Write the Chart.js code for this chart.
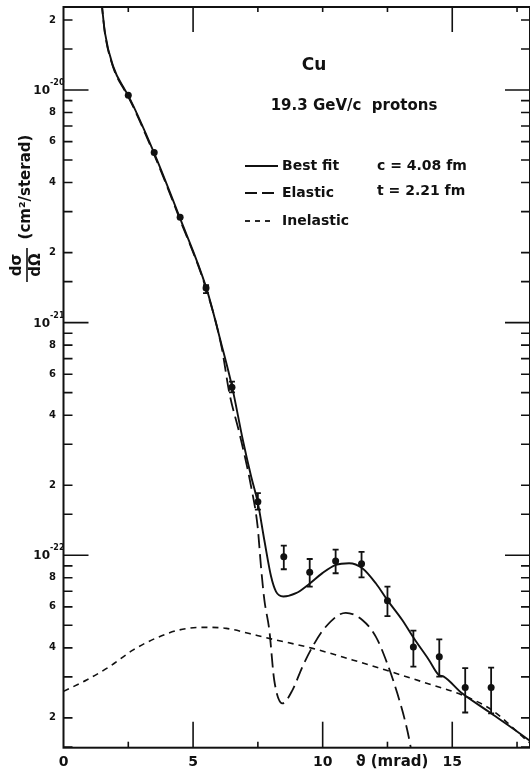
<!DOCTYPE html>
<html>
<head>
<meta charset="utf-8">
<script src="https://cdn.jsdelivr.net/npm/chart.js@4.4.0/dist/chart.umd.min.js"></script>
<style>
  html, body { margin: 0; padding: 0; background: #fff; overflow: hidden; }
  #wrap { width: 534px; height: 774px; }
</style>
</head>
<body>
<div id="wrap"><canvas id="cuChart" width="534" height="774"></canvas></div>
<script>
// measured points (theta in mrad, d sigma / d Omega in cm^2/sterad)
const thetaData = [2.5, 3.5, 4.5, 5.5, 6.5, 7.5, 8.5, 9.5, 10.5, 11.5, 12.5, 13.5, 14.5, 15.5, 16.5];
const sigmaData = [9.5e-21, 5.38e-21, 2.84e-21, 1.41e-21, 5.27e-22, 1.70e-22, 9.86e-23, 8.45e-23, 9.45e-23, 9.2e-23, 6.38e-23, 4.03e-23, 3.66e-23, 2.70e-23, 2.70e-23];
const sigmaLow  = [null, null, null, 1.34e-21, 5.01e-22, 1.57e-22, 8.71e-23, 7.33e-23, 8.37e-23, 8.04e-23, 5.48e-23, 3.32e-23, 3.01e-23, 2.11e-23, 2.09e-23];
const sigmaHigh = [null, null, null, 1.45e-21, 5.58e-22, 1.85e-22, 1.10e-22, 9.64e-23, 1.057e-22, 1.035e-22, 7.33e-23, 4.74e-23, 4.35e-23, 3.27e-23, 3.29e-23];

// best fit curve
const fitTheta = [1.46, 1.60, 1.92, 2.37, 2.49, 3.49, 4.48, 5.51, 6.10, 6.51, 6.92, 7.24, 7.49, 7.75, 8.01, 8.20, 8.48, 8.97, 9.48, 9.99, 10.51, 11.02, 11.53, 12.05, 12.49, 13.07, 13.52, 14.10, 14.48, 14.67, 15.38, 16.40, 17.94, 18.0];
const fitSigma = [2.44e-20, 1.76e-20, 1.26e-20, 1.0e-20, 9.5e-21, 5.38e-21, 2.84e-21, 1.41e-21, 8.02e-22, 5.27e-22, 3.13e-22, 2.18e-22, 1.70e-22, 1.16e-22, 8.10e-23, 6.98e-23, 6.65e-23, 6.87e-23, 7.53e-23, 8.38e-23, 9.09e-23, 9.24e-23, 8.80e-23, 7.58e-23, 6.43e-23, 5.27e-23, 4.40e-23, 3.55e-23, 3.06e-23, 3.01e-23, 2.55e-23, 2.13e-23, 1.61e-23, 1.59e-23];

// elastic part
const elasticTheta = [1.46, 1.60, 1.92, 2.37, 2.49, 3.49, 4.48, 5.51, 6.10, 6.40, 6.79, 7.24, 7.49, 7.62, 7.75, 7.94, 8.13, 8.45, 8.84, 9.22, 9.61, 10.12, 10.89, 11.53, 12.05, 12.49, 12.88, 13.20, 13.39, 13.48];
const elasticSigma = [2.43e-20, 1.75e-20, 1.25e-20, 9.9e-21, 9.4e-21, 5.3e-21, 2.8e-21, 1.39e-21, 7.85e-22, 4.98e-22, 3.34e-22, 1.97e-22, 1.33e-22, 8.93e-23, 6.43e-23, 4.78e-23, 2.91e-23, 2.31e-23, 2.64e-23, 3.32e-23, 4.05e-23, 4.93e-23, 5.66e-23, 5.27e-23, 4.47e-23, 3.43e-23, 2.55e-23, 1.90e-23, 1.51e-23, 1.30e-23];

// inelastic part
const inelasticTheta = [0, 0.89, 1.79, 2.69, 3.58, 4.48, 5.38, 6.28, 7.17, 7.75, 9.61, 11.15, 12.43, 14.22, 15.38, 16.53, 17.94, 18.0];
const inelasticSigma = [2.60e-23, 2.91e-23, 3.33e-23, 3.92e-23, 4.41e-23, 4.78e-23, 4.90e-23, 4.85e-23, 4.61e-23, 4.44e-23, 3.98e-23, 3.55e-23, 3.21e-23, 2.77e-23, 2.51e-23, 2.16e-23, 1.58e-23, 1.56e-23];

// axes
const xTickLabels = [0, 5, 10, 15];
const xBottomLong = [5, 10, 15];
const xTopLong = [5, 15];
const xShort = [2.5, 7.5, 10, 12.5, 17.5];
const yMantissas = [1.5, 2, 3, 4, 5, 6, 7, 8, 9];
const yLabelMantissas = [2, 4, 6, 8];
const yExponents = [-23, -22, -21, -20];

const ink = '#111';
const xy = (xs, ys) => xs.map((x, i) => ({ x: x, y: ys[i] }));

const paperPlugin = {
    id: 'paper',
    beforeDatasetsDraw(chart) {
        const ctx = chart.ctx;
        const xs = chart.scales.x, ys = chart.scales.y;
        ctx.save();
        ctx.strokeStyle = ink;
        ctx.lineWidth = 1.8;
        thetaData.forEach((t, i) => {
            if (sigmaLow[i] == null) return;
            const px = xs.getPixelForValue(t);
            const lo = ys.getPixelForValue(sigmaLow[i]);
            const hi = ys.getPixelForValue(sigmaHigh[i]);
            ctx.beginPath();
            ctx.moveTo(px, lo); ctx.lineTo(px, hi);
            ctx.moveTo(px - 3, lo); ctx.lineTo(px + 3, lo);
            ctx.moveTo(px - 3, hi); ctx.lineTo(px + 3, hi);
            ctx.stroke();
        });
        ctx.restore();
    },
    afterDraw(chart) {
        const ctx = chart.ctx;
        const a = chart.chartArea;
        const xs = chart.scales.x, ys = chart.scales.y;
        ctx.save();
        ctx.strokeStyle = ink;
        ctx.fillStyle = ink;

        // frame
        ctx.lineWidth = 2;
        ctx.strokeRect(a.left, a.top, a.right - a.left, a.bottom - a.top);

        // y ticks, pointing inward on both sides
        ctx.lineWidth = 1.6;
        yExponents.forEach(e => {
            const dec = Math.pow(10, e);
            const marks = yMantissas.map(m => ({ v: m * dec, len: 9 }));
            marks.push({ v: dec, len: 25 });
            marks.forEach(mk => {
                if (mk.v < ys.min || mk.v > ys.max) return;
                const py = ys.getPixelForValue(mk.v);
                ctx.beginPath();
                ctx.moveTo(a.left, py); ctx.lineTo(a.left + mk.len, py);
                ctx.moveTo(a.right, py); ctx.lineTo(a.right - mk.len, py);
                ctx.stroke();
            });
        });

        // x ticks
        xBottomLong.forEach(v => {
            const px = xs.getPixelForValue(v);
            ctx.beginPath(); ctx.moveTo(px, a.bottom); ctx.lineTo(px, a.bottom - 26); ctx.stroke();
        });
        xTopLong.forEach(v => {
            const px = xs.getPixelForValue(v);
            ctx.beginPath(); ctx.moveTo(px, a.top); ctx.lineTo(px, a.top + 25); ctx.stroke();
        });
        xShort.forEach(v => {
            const px = xs.getPixelForValue(v);
            ctx.beginPath(); ctx.moveTo(px, a.top); ctx.lineTo(px, a.top + 5); ctx.stroke();
            if (!xBottomLong.includes(v)) {
                ctx.beginPath(); ctx.moveTo(px, a.bottom); ctx.lineTo(px, a.bottom - 6); ctx.stroke();
            }
        });

        // y tick labels
        ctx.textBaseline = 'middle';
        yExponents.forEach(e => {
            const dec = Math.pow(10, e);
            yLabelMantissas.forEach(m => {
                const v = m * dec;
                if (v < ys.min || v > ys.max) return;
                ctx.font = 'bold 10px "DejaVu Sans"';
                ctx.textAlign = 'right';
                ctx.fillText(String(m), 56, ys.getPixelForValue(v));
            });
            if (dec >= ys.min && dec <= ys.max) {
                const py = ys.getPixelForValue(dec);
                ctx.font = 'bold 12px "DejaVu Sans"';
                ctx.textAlign = 'right';
                ctx.fillText('10', 50, py + 1);
                ctx.font = 'bold 8px "DejaVu Sans"';
                ctx.textAlign = 'left';
                ctx.fillText('-' + String(-e), 50, py - 7);
            }
        });

        // x tick labels
        ctx.font = 'bold 14px "DejaVu Sans"';
        ctx.textAlign = 'center';
        xTickLabels.forEach(v => {
            ctx.fillText(String(v), xs.getPixelForValue(v), 762);
        });
        ctx.font = 'bold 15px "DejaVu Sans"';
        ctx.fillText('\u03D1 (mrad)', 392, 762);

        // y axis title
        ctx.save();
        ctx.translate(26, 208);
        ctx.rotate(-Math.PI / 2);
        ctx.textAlign = 'center';
        ctx.font = 'bold 15px "DejaVu Sans"';
        ctx.fillText('d\u03C3', -57, -9);
        ctx.fillText('d\u03A9', -57, 10);
        ctx.lineWidth = 1.6;
        ctx.beginPath(); ctx.moveTo(-74, 1); ctx.lineTo(-40, 1); ctx.stroke();
        ctx.fillText('(cm\u00B2/sterad)', 21, 0);
        ctx.restore();

        // annotations
        ctx.textAlign = 'center';
        ctx.font = 'bold 17px "DejaVu Sans"';
        ctx.fillText('Cu', 314, 66);
        ctx.font = 'bold 15px "DejaVu Sans"';
        ctx.fillText('19.3 GeV/c  protons', 354, 106);

        // legend
        const rows = [
            { y: 166, dash: [], end: 278, text: 'Best fit' },
            { y: 193, dash: [12, 5], end: 278, text: 'Elastic' },
            { y: 221, dash: [5, 5], end: 271, text: 'Inelastic' }
        ];
        ctx.font = 'bold 14px "DejaVu Sans"';
        rows.forEach(r => {
            ctx.lineWidth = 1.8;
            ctx.setLineDash(r.dash);
            ctx.beginPath(); ctx.moveTo(245, r.y); ctx.lineTo(r.end, r.y); ctx.stroke();
            ctx.setLineDash([]);
            ctx.textAlign = 'left';
            ctx.fillText(r.text, 282, r.y);
        });
        ctx.fillText('c = 4.08 fm', 377, 166);
        ctx.fillText('t = 2.21 fm', 377, 191);
        ctx.restore();
    }
};

new Chart(document.getElementById('cuChart'), {
    type: 'line',
    data: {
        datasets: [
            { label: 'Best fit', data: xy(fitTheta, fitSigma), borderColor: ink, borderWidth: 1.9, pointRadius: 0, cubicInterpolationMode: 'monotone', fill: false },
            { label: 'Elastic', data: xy(elasticTheta, elasticSigma), borderColor: ink, borderWidth: 1.8, borderDash: [14, 6], pointRadius: 0, cubicInterpolationMode: 'monotone', fill: false },
            { label: 'Inelastic', data: xy(inelasticTheta, inelasticSigma), borderColor: ink, borderWidth: 1.6, borderDash: [6, 5], pointRadius: 0, cubicInterpolationMode: 'monotone', fill: false },
            { label: 'Data', data: xy(thetaData, sigmaData), showLine: false, pointRadius: 3.5, pointBackgroundColor: ink, pointBorderWidth: 0 }
        ]
    },
    options: {
        responsive: false,
        animation: false,
        events: [],
        layout: { padding: { left: 0, right: 2.5, top: 7, bottom: 0 } },
        plugins: {
            legend: { display: false },
            tooltip: { enabled: false }
        },
        scales: {
            x: {
                type: 'linear', min: 0, max: 18,
                grid: { display: false }, ticks: { display: false }, border: { display: false },
                afterFit: function (s) { s.height = 26.3; }
            },
            y: {
                type: 'logarithmic', min: 1.489e-23, max: 2.273e-20,
                grid: { display: false }, ticks: { display: false }, border: { display: false },
                afterFit: function (s) { s.width = 63.5; }
            }
        }
    },
    plugins: [paperPlugin]
});
</script>
</body>
</html>
